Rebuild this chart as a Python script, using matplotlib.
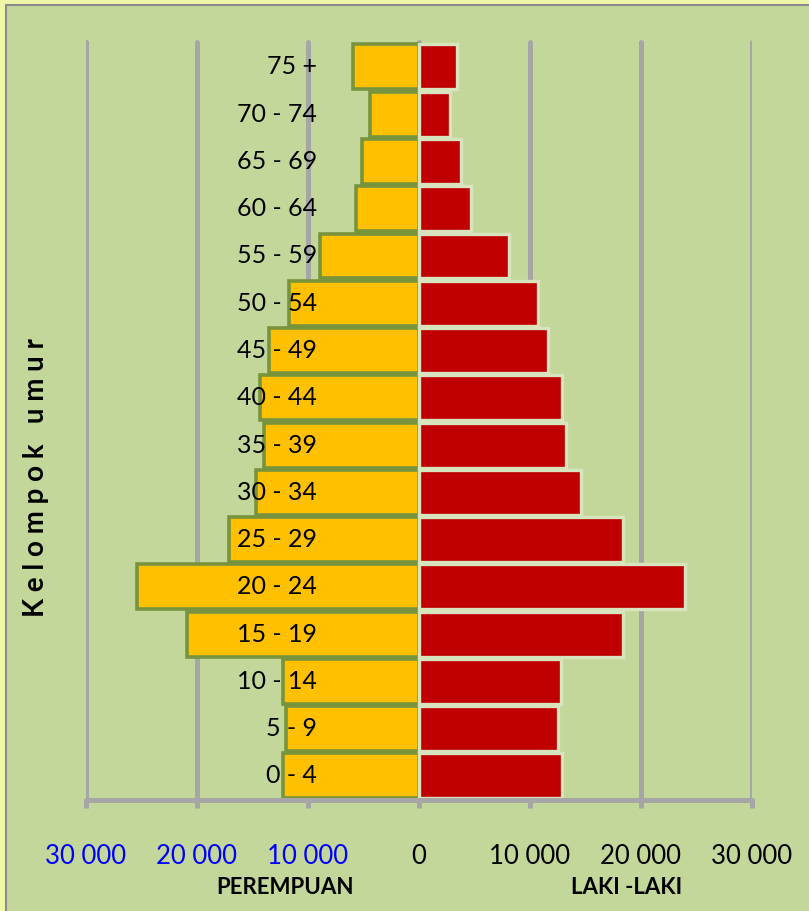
import matplotlib.pyplot as plt
from matplotlib.patches import Rectangle

# age groups, bottom to top
kelompok = ["0 - 4", "5 - 9", "10 - 14", "15 - 19", "20 - 24", "25 - 29", "30 - 34",
            "35 - 39", "40 - 44", "45 - 49", "50 - 54", "55 - 59", "60 - 64",
            "65 - 69", "70 - 74", "75 +"]
perempuan = [12250, 12000, 12250, 20900, 25400, 17100, 14700, 14000, 14300,
             13500, 11700, 8900, 5700, 5150, 4400, 5950]
laki_laki = [12900, 12500, 12800, 18400, 24000, 18400, 14600, 13250, 12900,
             11600, 10700, 8100, 4700, 3800, 2800, 3400]
ticks = [-30000, -20000, -10000, 0, 10000, 20000, 30000]
tick_labels = ["30 000", "20 000", "10 000", "0", "10 000", "20 000", "30 000"]

FONT = ["Lato", "DejaVu Sans"]
plt.rcParams["font.family"] = FONT

fig = plt.figure(figsize=(8.09, 9.11), dpi=100, facecolor="#EEF6A8")
# green panel with grey border
fig.patches.append(Rectangle((6 / 809, -0.05), 1.1, 1 - 5 / 911 + 0.05,
                             transform=fig.transFigure, facecolor="#C4D79B",
                             edgecolor="#8C8C8C", linewidth=1.5, zorder=-5))

ax = fig.add_axes([86 / 809, 1 - 800 / 911, (752 - 86) / 809, (800 - 40) / 911])
ax.set_zorder(2)
ax.set_facecolor("none")
ax.set_xlim(-30000, 30000)
ax.set_ylim(-0.51, 15.57)

y = list(range(len(kelompok)))

# vertical gridlines
for t in ticks:
    ax.plot([t, t], [-0.51, 15.52], color="#A6A6A6", linewidth=3.6,
            solid_capstyle="round", zorder=1)

ax.barh(y, [-v for v in perempuan], height=0.95, color="#FFC000",
        edgecolor="#77933C", linewidth=2.6, zorder=2)
ax.barh(y, laki_laki, height=0.95, color="#C00000",
        edgecolor="#D7E4BD", linewidth=2.4, zorder=2)

for yi, lab in zip(y, kelompok):
    ax.text(-9200, yi, lab, ha="right", va="center", fontsize=18,
            color="black", zorder=4)

for s in ["top", "right", "left"]:
    ax.spines[s].set_visible(False)
ax.spines["bottom"].set_color("#A6A6A6")
ax.spines["bottom"].set_linewidth(3.6)
ax.spines["bottom"].set_capstyle("round")
ax.set_yticks([])
ax.set_xticks(ticks)
ax.set_xticklabels(tick_labels, fontsize=18.5)
ax.tick_params(axis="x", length=6, width=3.6, color="#A6A6A6", pad=26)
for lbl, t in zip(ax.get_xticklabels(), ticks):
    lbl.set_color("#0000FF" if t < 0 else "black")

ax.set_ylabel("K e l o m p o k   u m u r", fontsize=20, fontweight="bold")
ax.yaxis.set_label_coords(-0.056, 0.424)

fig.text(285 / 809, 1 - 887 / 911, "PEREMPUAN", ha="center", va="center",
         fontsize=16, fontweight="bold")
fig.text(627 / 809, 1 - 887 / 911, "LAKI -LAKI", ha="center", va="center",
         fontsize=16, fontweight="bold")

fig.savefig("out.png", dpi=100, facecolor=fig.get_facecolor())
